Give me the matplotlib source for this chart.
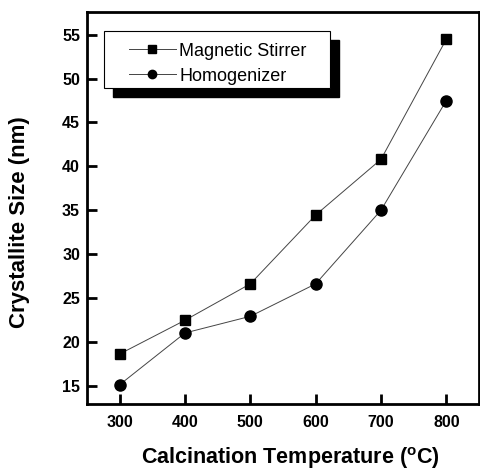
import matplotlib
matplotlib.use('Agg')
import matplotlib.pyplot as plt
from matplotlib.patches import Rectangle

# data
temps = [300, 400, 500, 600, 700, 800]
magnetic = [18.6, 22.45, 26.6, 34.45, 40.8, 54.5]
homog = [15.1, 21.0, 22.9, 26.6, 35.0, 47.5]
xticks = [300, 400, 500, 600, 700, 800]
yticks = [15, 20, 25, 30, 35, 40, 45, 50, 55]

plt.rcParams['font.family'] = ['Liberation Sans', 'DejaVu Sans']

fig = plt.figure(figsize=(4.81, 4.70), dpi=100)
ax = fig.add_axes([87 / 481, 1 - 404 / 470, (479 - 87) / 481, (404 - 12) / 470])

ax.plot(temps, magnetic, color='#444444', lw=0.7, marker='s', ms=7.3,
        mfc='black', mec='black', label='Magnetic Stirrer')
ax.plot(temps, homog, color='#444444', lw=0.7, marker='o', ms=8,
        mfc='black', mec='black', label='Homogenizer')

ax.set_xlim(250, 850)
ax.set_ylim(12.9, 57.6)
ax.set_xticks(xticks)
ax.set_yticks(yticks)
ax.tick_params(direction='in', length=7, width=2, labelsize=11.5)
ax.tick_params(axis='x', pad=8)
ax.tick_params(axis='y', pad=5)
for lab in ax.get_xticklabels() + ax.get_yticklabels():
    lab.set_fontweight('bold')
for s in ax.spines.values():
    s.set_linewidth(2)

ax.set_xlabel('Calcination Temperature ($^{\\mathregular{o}}$C)', fontsize=15.5,
              fontweight='bold', va='center')
ax.set_ylabel('Crystallite Size (nm)', fontsize=16, fontweight='bold', va='center')
ax.xaxis.set_label_coords(0.518, -0.138)
ax.yaxis.set_label_coords(-0.171, 0.464)

# legend box with drop shadow
ax.add_patch(Rectangle((0.0434 + 0.023, 0.806 - 0.023), 0.5766, 0.146,
                       transform=ax.transAxes, facecolor='black', edgecolor='black',
                       zorder=4))
ax.add_patch(Rectangle((0.0434, 0.806), 0.5766, 0.146, transform=ax.transAxes,
                       facecolor='white', edgecolor='black', lw=0.8, zorder=5))
leg = ax.legend(loc='upper left', bbox_to_anchor=(0.107, 0.922), borderaxespad=0,
                borderpad=0, fontsize=13, frameon=False, handlelength=2.6,
                labelspacing=0.45, handletextpad=0.2, markerscale=0.75)
leg.set_zorder(6)

fig.savefig('out.png', dpi=100)
